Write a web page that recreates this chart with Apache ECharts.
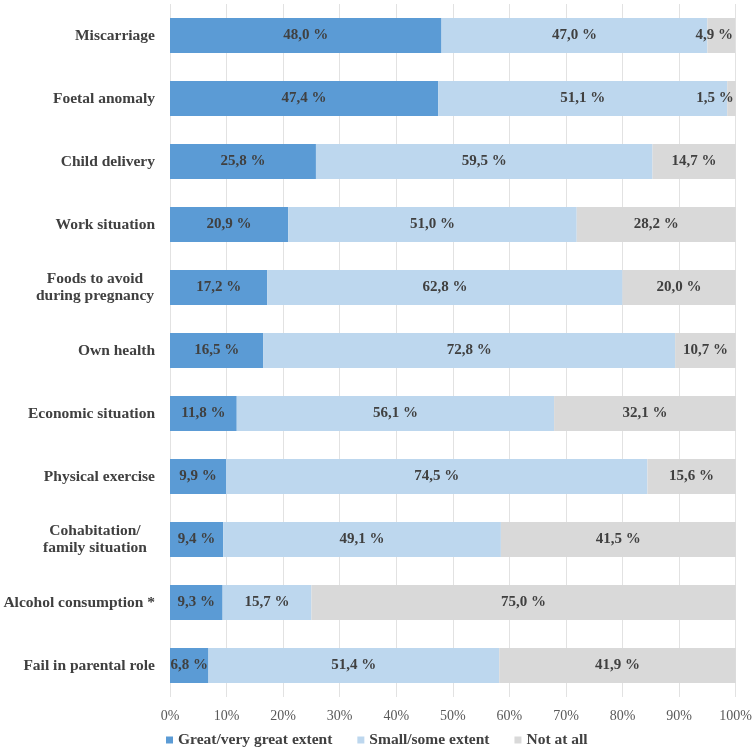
<!DOCTYPE html>
<html><head><meta charset="utf-8">
<script src="https://cdn.jsdelivr.net/npm/echarts@6/dist/echarts.min.js"></script>
<style>html,body{margin:0;padding:0;background:#fff}#c{width:755px;height:749px}</style>
</head><body><div id="c"></div>
<script>
const categories = ['Miscarriage','Foetal anomaly','Child delivery','Work situation','Foods to avoid\nduring pregnancy','Own health','Economic situation','Physical exercise','Cohabitation/\nfamily situation','Alcohol consumption *','Fail in parental role'];
const greatExtent = [48.0,47.4,25.8,20.9,17.2,16.5,11.8,9.9,9.4,9.3,6.8];
const smallExtent = [47.0,51.1,59.5,51.0,62.8,72.8,56.1,74.5,49.1,15.7,51.4];
const notAtAll = [4.9,1.5,14.7,28.2,20.0,10.7,32.1,15.6,41.5,75.0,41.9];
const xTicks = [0,10,20,30,40,50,60,70,80,90,100];

const fmt = v => v.toFixed(1).replace('.', ',') + ' %';
const serif = '"Liberation Serif","Times New Roman",serif';
const labelStyle = {show:true, position:'inside', color:'#404040', fontFamily:serif, fontWeight:'bold', fontSize:15, formatter: p => fmt(p.value)};

function mk(name, data, color, narrowRight){
  return {
    name, type:'bar', stack:'total', barWidth:35,
    itemStyle:{color},
    label: labelStyle,
    emphasis:{disabled:true},
    data: data.map(v => (narrowRight && v < 6) ? {value:v, label:{position:'insideRight', distance:2}} : v)
  };
}

const chart = echarts.init(document.getElementById('c'));
chart.setOption({
  animation:false,
  grid:{left:170, right:18, top:4, bottom:52, containLabel:false},
  legend:{
    left:161, top:727, itemWidth:7, itemHeight:7, itemGap:25, icon:'rect',
    textStyle:{color:'#404040', fontFamily:serif, fontWeight:'bold', fontSize:15.5},
    data:['Great/very great extent','Small/some extent','Not at all']
  },
  xAxis:{
    type:'value', min:0, max:100, interval:10,
    axisLine:{show:false}, axisTick:{show:false},
    splitLine:{show:true, lineStyle:{color:'#e2e2e2', width:1}},
    axisLabel:{color:'#595959', fontFamily:serif, fontSize:14, margin:12,
      formatter: v => xTicks.includes(v) ? v + '%' : ''}
  },
  yAxis:{
    type:'category', inverse:true, data:categories,
    axisLine:{show:false}, axisTick:{show:false},
    axisLabel:{
      color:'#404040', fontFamily:serif, fontWeight:'bold', fontSize:15.5, margin:15, lineHeight:17,
      formatter: v => v.includes('\n') ? v.split('\n').map(s => '{m|' + s + '}').join('\n') : v,
      rich:{m:{width:120, align:'center', color:'#404040', fontFamily:serif, fontWeight:'bold', fontSize:15.5, lineHeight:17}}
    }
  },
  series:[
    mk('Great/very great extent', greatExtent, '#5B9BD5', false),
    mk('Small/some extent', smallExtent, '#BDD7EE', false),
    mk('Not at all', notAtAll, '#D9D9D9', true)
  ]
});
</script></body></html>
